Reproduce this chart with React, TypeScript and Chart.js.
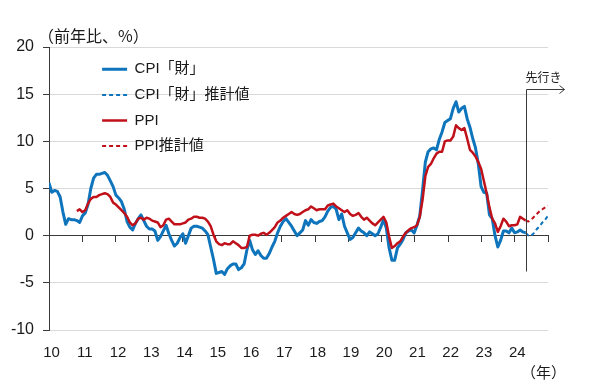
import { useEffect, useRef } from 'react';
import { Chart, registerables } from 'chart.js';

Chart.register(...registerables);

// ---- Data (monthly, Jan 2010 = index 0, Dec 2024 = index 179) ----
const START_YEAR = 2010;
const END_YEAR = 2025;
const MONTH_COUNT = 180;
const FORECAST_START = 171; // Apr 2024

const yearTickLabels = ['10', '11', '12', '13', '14', '15', '16', '17', '18', '19', '20', '21', '22', '23', '24'];

const seriesLabels = ['CPI「財」', 'CPI「財」推計値', 'PPI', 'PPI推計値'];

// CPI goods, YoY %, index 0..171
const cpiGoods = [
  5.6, 4.6, 4.8, 4.7, 4.1, 2.5, 1.2, 1.8, 1.7, 1.7, 1.6, 1.4,
  2.1, 2.4, 3.3, 5.0, 6.1, 6.5, 6.5, 6.6, 6.7, 6.4, 5.8, 5.2,
  4.3, 4.0, 3.6, 2.8, 1.5, 0.9, 0.6, 1.3, 1.8, 2.2, 1.6, 1.0,
  0.7, 0.7, 0.5, -0.5, -0.1, 0.5, 1.1, 0.2, -0.5, -1.1, -0.8, -0.2,
  0.2, -0.8, 0.0, 0.8, 1.0, 1.0, 0.9, 0.8, 0.5, 0.1, -1.2, -2.5,
  -4.0, -3.9, -3.8, -4.1, -3.5, -3.2, -3.0, -3.0, -3.6, -3.4, -3.0, -1.5,
  -0.5, -1.5, -2.0, -1.6, -2.1, -2.4, -2.4, -1.9, -1.2, -0.6, 0.3, 1.0,
  1.5, 1.8, 1.4, 1.0, 0.5, 0.0, 0.3, 0.6, 1.6, 1.1, 1.7, 1.4,
  1.3, 1.5, 1.6, 2.0, 2.6, 3.0, 3.1, 2.8, 1.7, 2.3, 1.0, 0.3,
  -0.4, -0.2, 0.3, 0.8, 0.5, 0.3, 0.0, 0.4, 0.2, 0.0, 0.2, 0.9,
  1.7, 0.8, -1.3, -2.6, -2.6, -1.3, -0.9, -0.4, 0.3, 0.5, 0.6, 0.3,
  1.1, 2.1, 4.8, 7.8, 8.9, 9.2, 9.3, 9.1, 10.2, 11.0, 12.0, 12.2,
  12.4, 13.5, 14.2, 13.1, 13.5, 13.7, 12.4, 11.5, 10.3, 9.3, 7.6, 5.2,
  4.6, 4.5, 2.2, 1.8, 0.0, -1.2, -0.5, 0.5, 0.5, 0.3, 0.8, 0.3,
  0.4, 0.6, 0.4, 0.3,
];

// CPI goods forecast, index 171..179
const cpiGoodsForecast = [0.3, 0.0, 0.0, 0.3, 0.7, 1.0, 1.4, 1.7, 2.1];

// PPI, YoY %, index 10..171
const PPI_START = 10;
const ppi = [
  2.6, 2.8,
  2.5, 2.7, 3.4, 3.9, 4.1, 4.1, 4.3, 4.4, 4.5, 4.4, 4.1, 3.5,
  3.3, 3.0, 2.7, 2.4, 2.0, 1.4, 1.1, 1.3, 1.8, 1.9, 1.7, 1.9,
  1.8, 1.6, 1.5, 1.4, 0.9, 1.1, 1.7, 1.8, 1.5, 1.2, 1.2, 1.2,
  1.3, 1.4, 1.7, 1.8, 2.0, 2.0, 1.9, 1.9, 1.8, 1.5, 1.0, 0.1,
  -0.6, -0.9, -1.0, -0.8, -0.9, -0.9, -0.6, -0.8, -1.0, -1.3, -1.3, -1.2,
  0.0, 0.1, 0.1, 0.0, 0.2, 0.3, 0.1, 0.3, 0.6, 0.9, 1.4, 1.6,
  1.9, 2.1, 2.3, 2.5, 2.3, 2.2, 2.3, 2.5, 2.7, 2.8, 3.1, 2.9,
  2.7, 2.8, 2.8, 2.8, 3.2, 3.3, 3.4, 3.1, 2.9, 2.7, 2.5, 2.7,
  2.3, 2.1, 2.2, 2.4, 2.0, 1.7, 1.9, 1.6, 1.3, 1.1, 1.4, 1.7,
  2.0, 1.4, -0.1, -1.3, -1.1, -0.8, -0.6, -0.1, 0.3, 0.6, 0.8, 0.9,
  1.1, 2.0, 3.8, 6.3, 7.3, 7.6, 8.2, 8.7, 8.9, 8.9, 10.0, 10.1,
  10.1, 10.5, 11.7, 11.4, 11.2, 11.4, 10.3, 9.1, 8.8, 8.4, 7.8, 7.1,
  5.8, 4.5, 3.0, 1.8, 1.3, 0.4, 1.0, 1.8, 1.5, 1.0, 1.1, 1.1,
  1.2, 2.0, 1.8, 1.6,
];

// PPI forecast, index 171..179
const ppiForecast = [1.6, 1.5, 1.7, 2.0, 2.3, 2.6, 2.8, 3.0, 3.2];

// ---- Styles ----
const BLUE = '#0E74BC';
const RED = '#C0101A';
const AXIS = '#3a3a3a';
const GRID = '#d9d9d9';
const TEXT = '#1a1a1a';
const FONT = '"Liberation Sans", "Noto Sans CJK JP", Arial, sans-serif';
const CJK_FONT = '"Noto Sans CJK JP", "Liberation Sans", sans-serif';

const xOf = (i: number) => START_YEAR + (i * (END_YEAR - START_YEAR)) / (MONTH_COUNT - 1);
const toPoints = (start: number, vals: number[]) => vals.map((v, k) => ({ x: xOf(start + k), y: v }));

const annotationPlugin = {
  id: 'annotations',
  afterLayout(chart: any) {
    const lg = chart.legend;
    if (!lg) return;
    const ca = chart.chartArea;
    lg.left = ca.left + 42.5;
    lg.top = ca.top + 4.2;
    lg.width = 220;
    lg.height = 140;
    lg.right = lg.left + lg.width;
    lg.bottom = lg.top + lg.height;
  },
  afterDraw(chart: any) {
    const { ctx, chartArea: ca, scales } = chart;
    const xs = scales.x;
    const ys = scales.y;
    ctx.save();
    // forecast boundary + arrow
    const bx = Math.round(xs.getPixelForValue(xOf(FORECAST_START))) + 0.5;
    const yTop = Math.round(ys.getPixelForValue(15.5)) + 0.5;
    const yBot = ys.getPixelForValue(-3.8);
    ctx.strokeStyle = AXIS;
    ctx.lineWidth = 1;
    ctx.beginPath();
    ctx.moveTo(bx, yBot);
    ctx.lineTo(bx, yTop);
    ctx.lineTo(bx + 38, yTop);
    ctx.moveTo(bx + 33, yTop - 4);
    ctx.lineTo(bx + 38, yTop);
    ctx.lineTo(bx + 33, yTop + 4);
    ctx.stroke();

    ctx.fillStyle = TEXT;
    ctx.textBaseline = 'middle';
    ctx.textAlign = 'center';
    ctx.font = '12px ' + CJK_FONT;
    ctx.fillText('先行き', bx + 17, yTop - 12);

    // unit labels
    ctx.font = '16px ' + CJK_FONT;
    ctx.textAlign = 'left';
    ctx.fillText('（前年比、%）', ca.left - 11, ca.top - 11);
    ctx.font = '15px ' + CJK_FONT;
    ctx.textAlign = 'center';
    ctx.fillText('（年）', bx + 17, ca.bottom + 42);
    ctx.restore();
  },
};

export default function App() {
  const canvasRef = useRef<HTMLCanvasElement | null>(null);

  useEffect(() => {
    if (!canvasRef.current) return;
    const chart = new Chart(canvasRef.current, {
      type: 'line',
      data: {
        datasets: [
          {
            label: seriesLabels[0],
            data: toPoints(0, cpiGoods),
            borderColor: BLUE,
            backgroundColor: BLUE,
            borderWidth: 3,
            order: 3,
          },
          {
            label: seriesLabels[1],
            data: toPoints(FORECAST_START, cpiGoodsForecast),
            borderColor: BLUE,
            backgroundColor: BLUE,
            borderWidth: 2,
            borderDash: [4, 3],
            order: 2,
          },
          {
            label: seriesLabels[2],
            data: toPoints(PPI_START, ppi),
            borderColor: RED,
            backgroundColor: RED,
            borderWidth: 2.5,
            order: 1,
          },
          {
            label: seriesLabels[3],
            data: toPoints(FORECAST_START, ppiForecast),
            borderColor: RED,
            backgroundColor: RED,
            borderWidth: 2,
            borderDash: [4, 3],
            order: 0,
          },
        ],
      },
      options: {
        responsive: false,
        animation: false,
        devicePixelRatio: 1,
        layout: { padding: { left: 0, top: 47, right: 52, bottom: 30 } },
        elements: {
          point: { radius: 0, hoverRadius: 0 },
          line: { tension: 0, borderJoinStyle: 'round', borderCapStyle: 'butt' },
        },
        plugins: {
          tooltip: { enabled: false },
          title: { display: false },
          legend: {
            position: 'chartArea',
            align: 'start',
            labels: {
              usePointStyle: true,
              pointStyleWidth: 25,
              padding: 10.6,
              color: TEXT,
              font: { size: 15, family: FONT },
              generateLabels: (c: any) =>
                c.data.datasets.map((ds: any, i: number) => ({
                  text: ds.label,
                  fillStyle: ds.borderColor,
                  strokeStyle: ds.borderColor,
                  lineWidth: ds.borderWidth,
                  lineDash: ds.borderDash || [],
                  lineCap: 'butt',
                  pointStyle: 'line',
                  fontColor: TEXT,
                  hidden: false,
                  datasetIndex: i,
                })),
            },
          },
        },
        scales: {
          x: {
            type: 'linear',
            axis: 'x',
            min: START_YEAR,
            max: END_YEAR,
            position: { y: 0 },
            ticks: { display: false, stepSize: 1 },
            grid: { drawOnChartArea: false, drawTicks: true, tickLength: 6, tickColor: AXIS, tickWidth: 1 },
            border: { color: AXIS, width: 1 },
            afterFit: (s: any) => {
              s.height = 0;
            },
          },
          xLabels: {
            type: 'linear',
            axis: 'x',
            min: START_YEAR,
            max: END_YEAR,
            position: 'bottom',
            grid: { display: false, drawTicks: false },
            border: { display: false },
            ticks: {
              stepSize: 1,
              autoSkip: false,
              maxRotation: 0,
              padding: 14,
              labelOffset: 2.5,
              color: TEXT,
              font: { size: 15, family: FONT },
              callback: (v: any) => {
                const k = Math.round(Number(v)) - START_YEAR;
                return k >= 0 && k < yearTickLabels.length ? yearTickLabels[k] : '';
              },
            },
            afterFit: (s: any) => {
              s.height = 32;
            },
          },
          y: {
            type: 'linear',
            position: 'left',
            min: -10,
            max: 20,
            ticks: { stepSize: 5, padding: 9, color: TEXT, font: { size: 16, family: FONT } },
            grid: {
              color: (c: any) => (c.tick && c.tick.value === 0 ? AXIS : GRID),
              tickColor: AXIS,
              tickLength: 6,
              lineWidth: 1,
            },
            border: { color: AXIS, width: 1 },
            afterFit: (s: any) => {
              s.width = 49;
            },
          },
        },
      },
      plugins: [annotationPlugin],
    } as any);
    return () => chart.destroy();
  }, []);

  return (
    <div style={{ position: 'absolute', left: 0, top: 0, width: 600, height: 392, background: '#fff' }}>
      <canvas ref={canvasRef} width={600} height={392} />
    </div>
  );
}
